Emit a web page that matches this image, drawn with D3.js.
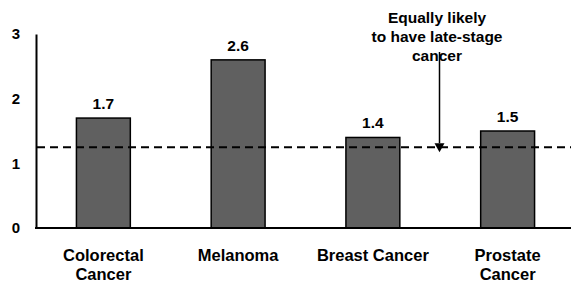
<!DOCTYPE html>
<html>
<head>
<meta charset="utf-8">
<script src="https://cdn.jsdelivr.net/npm/d3@7"></script>
<style>
  body { margin: 0; background: #fff; }
  text { font-family: "Liberation Sans", Arial, sans-serif; font-weight: bold; fill: #000; }
</style>
</head>
<body>
<div id="chart"></div>
<script>
var categories = [["Colorectal", "Cancer"], ["Melanoma"], ["Breast Cancer"], ["Prostate", "Cancer"]];
var values = [1.7, 2.6, 1.4, 1.5];
var yTicks = [0, 1, 2, 3];
var refValue = 1.25;
var noteLines = ["Equally likely", "to have late-stage", "cancer"];

var width = 571,
    height = 284;

var svg = d3.select("#chart").append("svg")
    .attr("width", width)
    .attr("height", height);

var x = d3.scaleBand()
    .domain(d3.range(values.length))
    .range([36, 575])
    .paddingInner(0.6)
    .paddingOuter(0.3);

var y = d3.scaleLinear()
    .domain([0, 3])
    .range([228, 34]);

// bars
svg.append("g").selectAll("rect")
    .data(values)
    .enter().append("rect")
    .attr("x", (d, i) => x(i))
    .attr("y", d => y(d))
    .attr("width", x.bandwidth())
    .attr("height", d => y(0) - y(d))
    .style("fill", "#606060")
    .style("stroke", "#000")
    .style("stroke-width", 1.5);

// value labels
svg.append("g").selectAll("text")
    .data(values)
    .enter().append("text")
    .attr("x", (d, i) => x(i) + x.bandwidth() / 2)
    .attr("y", d => y(d) - 9)
    .attr("text-anchor", "middle")
    .style("font-size", "15.5px")
    .text(d => d.toFixed(1));

// reference line
svg.append("line")
    .attr("x1", 37)
    .attr("x2", width)
    .attr("y1", y(refValue))
    .attr("y2", y(refValue))
    .style("stroke", "#000")
    .style("stroke-width", 2)
    .style("stroke-dasharray", "8,5");

// axes
var yAxis = svg.append("g")
    .attr("transform", "translate(36,0)")
    .call(d3.axisLeft(y).tickValues(yTicks).tickSize(0).tickPadding(10).tickFormat(d3.format("d")));
yAxis.select(".domain").style("stroke", "#000").style("stroke-width", 2);
yAxis.selectAll("text").style("font-size", "15px").attr("x", -16).attr("font-family", null);

svg.append("line")
    .attr("x1", 35)
    .attr("x2", width)
    .attr("y1", y(0))
    .attr("y2", y(0))
    .style("stroke", "#000")
    .style("stroke-width", 2);

// category labels
var cat = svg.append("g").selectAll("text")
    .data(categories)
    .enter().append("text")
    .attr("x", (d, i) => x(i) + x.bandwidth() / 2)
    .attr("y", 261)
    .attr("text-anchor", "middle")
    .style("font-size", "16.5px");
cat.selectAll("tspan")
    .data(d => d)
    .enter().append("tspan")
    .attr("x", function () { return d3.select(this.parentNode).attr("x"); })
    .attr("dy", (d, i) => i == 0 ? 0 : 19)
    .text(d => d);

// annotation
var noteX = 437;
svg.append("g").selectAll("text")
    .data(noteLines)
    .enter().append("text")
    .attr("x", noteX)
    .attr("y", (d, i) => 23 + i * 19)
    .attr("text-anchor", "middle")
    .style("font-size", "15.5px")
    .text(d => d);

svg.append("line")
    .attr("x1", 439.5)
    .attr("x2", 439.5)
    .attr("y1", 52)
    .attr("y2", y(refValue) - 4)
    .style("stroke", "#000")
    .style("stroke-width", 1.5);

svg.append("path")
    .attr("d", d3.line()([[434.5, y(refValue) - 4], [444.5, y(refValue) - 4], [439.5, y(refValue) + 5]]) + "Z")
    .style("fill", "#000");
</script>
</body>
</html>
